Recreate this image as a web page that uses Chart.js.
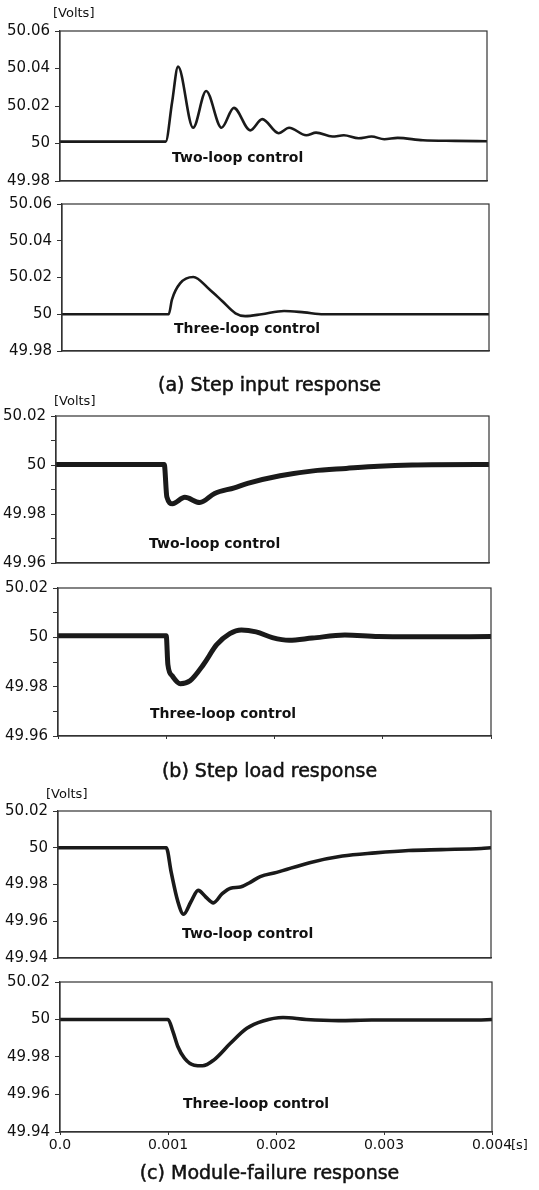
<!DOCTYPE html>
<html lang="en">
<head>
    <meta charset="UTF-8">
    <title>Step and module-failure responses</title>
    <script src="https://cdn.jsdelivr.net/npm/chart.js@4"></script>
    <style>
        body { margin: 0; background: #fff; }
        #page { position: relative; width: 539px; height: 1190px; overflow: hidden; font-family: "DejaVu Sans", sans-serif; color: #111; }
        .box { position: absolute; left: 0; }
        .txt { position: absolute; white-space: nowrap; transform: translateY(-50%); line-height: 1; }
        .unit { font-size: 13px; }
        .inner { font-size: 14px; font-weight: bold; }
        .caption { font-size: 19px; width: 539px; left: 0; text-align: center; -webkit-text-stroke: 0.5px #111; }
    </style>
</head>
<body>
<div id="page">
    <div class="box" id="b1"><canvas id="c1"></canvas></div>
    <div class="box" id="b2"><canvas id="c2"></canvas></div>
    <div class="box" id="b3"><canvas id="c3"></canvas></div>
    <div class="box" id="b4"><canvas id="c4"></canvas></div>
    <div class="box" id="b5"><canvas id="c5"></canvas></div>
    <div class="box" id="b6"><canvas id="c6"></canvas></div>

    <div class="txt unit" style="left:53px; top:12px;">[Volts]</div>
    <div class="txt inner" style="left:172px; top:157px;">Two-loop control</div>
    <div class="txt inner" style="left:174px; top:328px;">Three-loop control</div>
    <div class="txt caption" style="top:384px;">(a) Step input response</div>

    <div class="txt unit" style="left:54px; top:400px;">[Volts]</div>
    <div class="txt inner" style="left:149px; top:543px;">Two-loop control</div>
    <div class="txt inner" style="left:150px; top:713px;">Three-loop control</div>
    <div class="txt caption" style="top:770px;">(b) Step load response</div>

    <div class="txt unit" style="left:46px; top:793px;">[Volts]</div>
    <div class="txt inner" style="left:182px; top:933px;">Two-loop control</div>
    <div class="txt inner" style="left:183px; top:1103px;">Three-loop control</div>
    <div class="txt unit" style="left:511px; top:1144px;">[s]</div>
    <div class="txt caption" style="top:1172px;">(c) Module-failure response</div>
</div>
<script>
    // tick labels
    const yLabelsInput = ['50.06', '50.04', '50.02', '50', '49.98'];
    const yLabelsLoad = ['50.02', '50', '49.98', '49.96'];
    const yLabelsFail = ['50.02', '50', '49.98', '49.96', '49.94'];
    const xLabels = ['0.0', '0.001', '0.002', '0.003', '0.004'];

    // (a) step input, two-loop
    const tInput2 = [0, 0.00099, 0.00105, 0.001106, 0.001247, 0.001369, 0.001513, 0.001629, 0.001782, 0.001895, 0.002048,
        0.002146, 0.002307, 0.002399, 0.002552, 0.002659, 0.002797, 0.002918, 0.003038, 0.003163, 0.0034, 0.0037, 0.004];
    const vInput2 = [50.001, 50.001, 50.022, 50.041, 50.0084, 50.028, 50.0084, 50.019, 50.007, 50.013, 50.0055,
        50.0084, 50.0044, 50.0058, 50.0037, 50.0044, 50.0028, 50.0037, 50.0023, 50.003, 50.0017, 50.0014, 50.0012];
    // (a) step input, three-loop
    const tInput3 = [0, 0.001, 0.00103, 0.001106, 0.00123, 0.00138, 0.0015, 0.001625, 0.001716, 0.00187, 0.00208, 0.00227, 0.00245, 0.003, 0.004];
    const vInput3 = [50.0, 50.0, 50.008, 50.0168, 50.0203, 50.0136, 50.0072, 50.0005, 49.999, 50.0, 50.0018, 50.001, 50.0, 50.0, 50.0];

    // (b) step load, two-loop
    const tLoad2 = [0, 0.001, 0.001024, 0.001076, 0.00119, 0.001328, 0.001465, 0.001647, 0.00177, 0.00207, 0.002377, 0.00268, 0.00298, 0.00329, 0.00389, 0.004];
    const vLoad2 = [50.0002, 50.0002, 49.987, 49.9842, 49.9868, 49.9847, 49.9884, 49.9907, 49.9925, 49.9956, 49.9976, 49.9986, 49.9995, 50.0, 50.0002, 50.0002];
    // (b) step load, three-loop
    const tLoad3 = [0, 0.001, 0.001015, 0.001055, 0.00113, 0.00122, 0.001344, 0.001466, 0.001587, 0.001694, 0.00183, 0.00198, 0.002135, 0.00235, 0.00265, 0.00296, 0.00341, 0.004];
    const vLoad3 = [50.0006, 50.0006, 49.989, 49.9844, 49.9812, 49.9824, 49.989, 49.997, 50.0015, 50.003, 50.0022, 49.9999, 49.9988, 49.9997, 50.0009, 50.0003, 50.0002, 50.0003];

    // (c) module failure, two-loop
    const tFail2 = [0, 0.001, 0.001046, 0.001106, 0.00116, 0.001228, 0.001295, 0.001365, 0.001435, 0.001517, 0.001594, 0.001685,
        0.001776, 0.001868, 0.00202, 0.002324, 0.002628, 0.00293, 0.00324, 0.00354, 0.00391, 0.004];
    const vFail2 = [50.0, 50.0, 49.9866, 49.971, 49.9638, 49.9706, 49.9768, 49.9732, 49.970, 49.975, 49.978, 49.9786,
        49.9812, 49.9843, 49.9866, 49.9919, 49.9955, 49.9972, 49.9985, 49.999, 49.9996, 50.0];
    // (c) module failure, three-loop
    const tFail3 = [0, 0.001, 0.001046, 0.001091, 0.001152, 0.001243, 0.00132, 0.001426, 0.001578, 0.00173, 0.00188, 0.002065, 0.00228, 0.00258, 0.002887, 0.00386, 0.004];
    const vFail3 = [50.0, 50.0, 49.9935, 49.9856, 49.9794, 49.9756, 49.9753, 49.9785, 49.9873, 49.9953, 49.9992, 50.0011, 50.0, 49.9994, 49.9997, 49.9997, 50.0];

    const W = 539;
    const ink = '#1a1a1a';

    const framePlugin = {
        id: 'frame',
        afterDraw(chart) {
            const a = chart.chartArea, ctx = chart.ctx;
            ctx.save();
            ctx.strokeStyle = '#333';
            ctx.lineWidth = 1.2;
            ctx.strokeRect(a.left, a.top, a.right - a.left, a.bottom - a.top);
            ctx.restore();
        }
    };

    // box: [left, top, right, bottom] of the plot area in page pixels
    function panel(n, times, volts, box, yLabels, lineW, xMode) {
        const [left, top, right, bottom] = box;
        const padTop = 12;
        const xH = xMode === 'labels' ? 22 : 0;
        const padBottom = xMode === 'labels' ? 2 : 12;
        const h = padTop + (bottom - top) + xH + padBottom;
        const holder = document.getElementById('b' + n);
        holder.style.top = (top - padTop) + 'px';
        const cv = document.getElementById('c' + n);
        cv.width = W; cv.height = h;
        cv.style.width = W + 'px'; cv.style.height = h + 'px';

        const yMin = parseFloat(yLabels[yLabels.length - 1]);
        const yMax = parseFloat(yLabels[0]);

        new Chart(cv, {
            type: 'line',
            data: {
                datasets: [{
                    data: times.map((t, i) => ({ x: t, y: volts[i] })),
                    borderColor: ink,
                    borderWidth: lineW,
                    pointRadius: 0,
                    cubicInterpolationMode: 'monotone',
                    fill: false
                }]
            },
            options: {
                responsive: false,
                animation: false,
                devicePixelRatio: 1,
                layout: { padding: { top: padTop, right: W - right, bottom: padBottom, left: 0 } },
                plugins: { legend: { display: false }, tooltip: { enabled: false } },
                scales: {
                    x: {
                        type: 'linear',
                        min: 0,
                        max: 0.004,
                        afterFit: s => { s.height = xH; },
                        border: { display: true, color: '#333', width: 1.2 },
                        grid: { drawOnChartArea: false, drawTicks: xMode !== 'none', tickLength: 3, color: '#333' },
                        ticks: {
                            display: xMode === 'labels',
                            stepSize: 0.001,
                            padding: 2,
                            color: '#111',
                            font: { family: 'DejaVu Sans', size: 14 },
                            callback: (v) => {
                                const hit = xLabels.find(l => Math.abs(parseFloat(l) - v) < 1e-7);
                                return hit === undefined ? '' : hit;
                            }
                        }
                    },
                    y: {
                        min: yMin,
                        max: yMax,
                        afterFit: s => { s.width = left; },
                        border: { display: true, color: '#333', width: 1.2 },
                        grid: { drawOnChartArea: false, tickLength: 5, color: '#333' },
                        ticks: {
                            stepSize: 0.01,
                            padding: 5,
                            color: '#111',
                            font: { family: 'DejaVu Sans', size: 15 },
                            callback: (v) => {
                                const hit = yLabels.find(l => Math.abs(parseFloat(l) - v) < 1e-6);
                                return hit === undefined ? '' : hit;
                            }
                        }
                    }
                }
            },
            plugins: [framePlugin]
        });
    }

    panel(1, tInput2, vInput2, [60, 29, 487, 183], yLabelsInput, 2.6, 'none');
    panel(2, tInput3, vInput3, [62, 202, 489, 353], yLabelsInput, 2.6, 'none');
    panel(3, tLoad2, vLoad2, [56, 414, 489, 565], yLabelsLoad, 5, 'none');
    panel(4, tLoad3, vLoad3, [58, 586, 491, 738], yLabelsLoad, 5, 'ticks');
    panel(5, tFail2, vFail2, [58, 809, 491, 960], yLabelsFail, 3.6, 'none');
    panel(6, tFail3, vFail3, [60, 980, 492, 1132], yLabelsFail, 3.6, 'labels');
</script>
</body>
</html>
